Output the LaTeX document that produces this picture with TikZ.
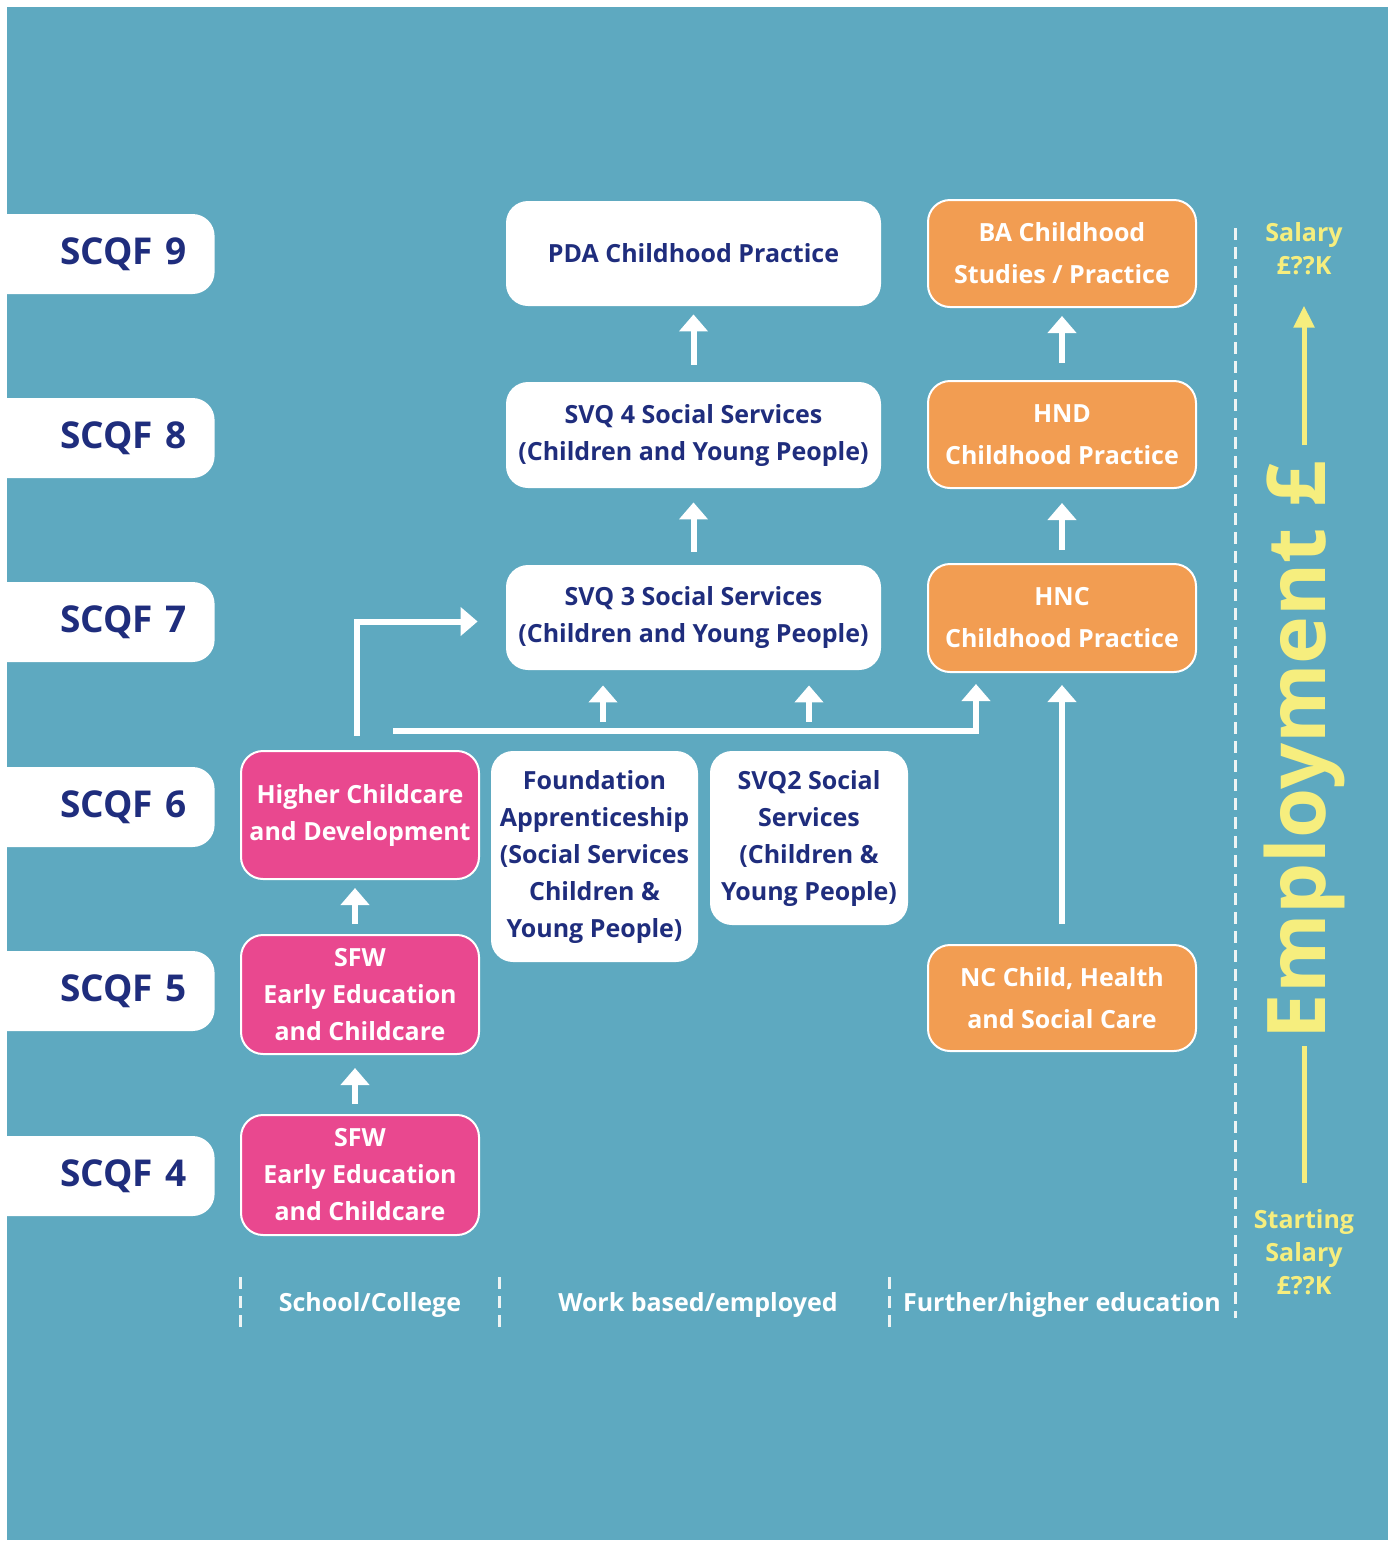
\documentclass[tikz,border=0pt]{standalone}
\usepackage{fontspec}
\setmainfont{Open Sans}
\usetikzlibrary{arrows.meta}
\definecolor{bgteal}{HTML}{5EA9C0}
\definecolor{navytext}{HTML}{1F2D7D}
\definecolor{pinkfill}{HTML}{E9488F}
\definecolor{orangefill}{HTML}{F29D52}
\definecolor{salyellow}{HTML}{F6EE7E}
\definecolor{dashwhite}{HTML}{EEF4F4}

\tikzset{
  leveltab/.style={fill=white, rounded corners=11pt, anchor=east, minimum width=130pt, minimum height=40pt, inner xsep=14pt, text width=102pt, align=right, text=navytext, font=\bfseries\fontsize{18.5}{22}\selectfont},
  whitebox/.style={fill=white, rounded corners=11pt, align=center, text=navytext, inner sep=2pt, font=\bfseries\fontsize{12.5}{18.5}\selectfont},
  pinkbox/.style={whitebox, fill=pinkfill, draw=white, line width=1pt, text=white},
  orangebox/.style={whitebox, fill=orangefill, draw=white, line width=1pt, text=white, font=\bfseries\fontsize{12.5}{21}\selectfont},
  uparrow/.style={draw=white, line width=3pt, -{Triangle[width=14pt,length=8.5pt]}},
  sidedash/.style={draw=dashwhite, line width=1.5pt, dash pattern=on 6pt off 3.5pt},
  salary/.style={text=salyellow, align=center, inner sep=0pt, font=\bfseries\fontsize{12.5}{16.5}\selectfont},
  yline/.style={draw=salyellow, line width=2.5pt},
  pathway/.style={text=white, font=\bfseries\fontsize{12.5}{15}\selectfont},
}

\begin{document}
\begin{tikzpicture}[x=0.5pt, y=-0.5pt]
    \useasboundingbox (0,0) rectangle (1397,1544);
    \fill[white] (0,0) rectangle (1397,1544);
    \fill[bgteal] (7,7) rectangle (1388,1540);

    \begin{scope}
        \clip (7,7) rectangle (1388,1540);
        \node[leveltab] (scqfnine) at (215,254) {SCQF 9};
        \node[leveltab] (scqfeight) at (215,438) {SCQF 8};
        \node[leveltab] (scqfseven) at (215,622) {SCQF 7};
        \node[leveltab] (scqfsix) at (215,807) {SCQF 6};
        \node[leveltab] (scqffive) at (215,991) {SCQF 5};
        \node[leveltab] (scqffour) at (215,1176) {SCQF 4};
    \end{scope}

    \node[whitebox, minimum width=187.5pt, minimum height=52.5pt] (pda) at (693.5,253.5) {PDA Childhood Practice};
    \node[whitebox, minimum width=187.5pt, minimum height=53pt] (svqfour) at (693.5,435) {SVQ 4 Social Services\\(Children and Young People)};
    \node[whitebox, minimum width=187.5pt, minimum height=52.5pt] (svqthree) at (693.5,617.5) {SVQ 3 Social Services\\(Children and Young People)};

    \node[orangebox, minimum width=134pt, minimum height=53.5pt] (ba) at (1062,253.5) {BA Childhood\\Studies / Practice};
    \node[orangebox, minimum width=134pt, minimum height=53.5pt] (hnd) at (1062,434.5) {HND\\Childhood Practice};
    \node[orangebox, minimum width=134pt, minimum height=54pt] (hnc) at (1062,618) {HNC\\Childhood Practice};
    \node[orangebox, minimum width=134pt, minimum height=53pt] (nc) at (1062,998) {NC Child, Health\\and Social Care};

    \node[pinkbox, minimum width=119pt, minimum height=64pt] (higher) at (360,815) {Higher Childcare\\and Development};
    \node[pinkbox, minimum width=119pt, minimum height=59.5pt] (sfwfive) at (360,994.5) {SFW\\Early Education\\and Childcare};
    \node[pinkbox, minimum width=119pt, minimum height=60pt] (sfwfour) at (360,1175) {SFW\\Early Education\\and Childcare};

    \node[whitebox, minimum width=103.5pt, minimum height=105.5pt] (found) at (594.5,856.5) {Foundation\\Apprenticeship\\(Social Services\\Children \&\\Young People)};
    \node[whitebox, minimum width=99pt, minimum height=87pt] (svqtwo) at (809,838) {SVQ2 Social\\Services\\(Children \&\\Young People)};

    \draw[uparrow, shorten <=8.5pt, shorten >=4pt] (svqfour) -- (pda);
    \draw[uparrow, shorten <=6.5pt, shorten >=7pt] (svqthree) -- (svqfour);
    \draw[uparrow, shorten <=8.5pt, shorten >=4pt] (hnd) -- (ba);
    \draw[uparrow, shorten <=6.5pt, shorten >=7pt] (hnc) -- (hnd);
    \draw[uparrow, shorten <=10pt, shorten >=6pt] (nc) -- (hnc);
    \draw[uparrow, shorten <=5pt, shorten >=4pt] ([xshift=-2.5pt]sfwfive.north) -- ([xshift=-2.5pt]higher.south);
    \draw[uparrow, shorten <=5pt, shorten >=6.5pt] ([xshift=-2.5pt]sfwfour.north) -- ([xshift=-2.5pt]sfwfive.south);
    \draw[uparrow] ([xshift=-1.5pt, yshift=7pt]higher.north) |- ([xshift=-14pt, yshift=-2pt]svqthree.west);

    \coordinate (busstart) at (393,731);
    \draw[uparrow] (busstart) -| ([xshift=24.5pt, yshift=-5.5pt]hnc.south west);
    \draw[uparrow, shorten >=7.5pt] ([xshift=4.25pt, yshift=14.5pt]found.north) -- ([xshift=4.25pt]found.north |- svqthree.south);
    \draw[uparrow, shorten >=7.5pt] ([yshift=14.5pt]svqtwo.north) -- (svqtwo.north |- svqthree.south);

    \draw[sidedash] (240,1277) -- (240,1327);
    \draw[sidedash] (499,1277) -- (499,1327);
    \draw[sidedash] (889,1277) -- (889,1327);
    \draw[sidedash] (1235,228) -- (1235,1318);
    \node[pathway] (school) at (370,1305) {School/College};
    \node[pathway] (work) at (698,1305) {Work based/employed};
    \node[pathway] (further) at (1062,1305) {Further/higher education};

    \node[salary] (salarytop) at (1304,249) {Salary\\£??K};
    \node[salary] (salarystart) at (1304,1252) {Starting\\Salary\\£??K};
    \node[text=salyellow, rotate=90, inner sep=0pt, font=\bfseries\fontsize{40.5}{42}\selectfont] (employ) at (1304,750) {Employment £};
    \draw[yline, shorten <=13pt, shorten >=3pt] (salarystart.north) -- (employ.west);
    \draw[yline, -{Triangle[width=10pt,length=11pt]}, shorten <=7.5pt, shorten >=15pt] (employ.east) -- (salarytop.south);
\end{tikzpicture}
\end{document}
